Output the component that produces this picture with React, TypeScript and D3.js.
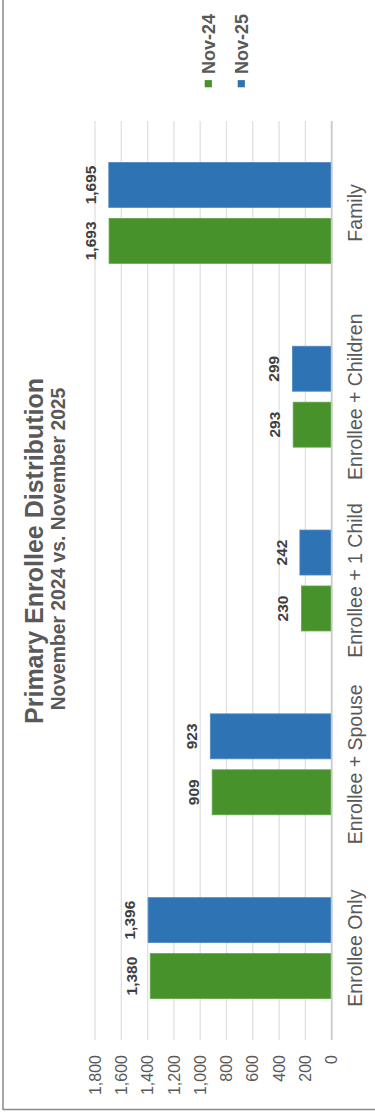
import React from 'react';
import * as d3 from 'd3';

const categories = ['Enrollee Only', 'Enrollee + Spouse', 'Enrollee + 1 Child', 'Enrollee + Children', 'Family'];
const seriesNames = ['Nov-24', 'Nov-25'];
const nov24 = [1380, 909, 230, 293, 1693];
const nov25 = [1396, 923, 242, 299, 1695];
const yTicks = [0, 200, 400, 600, 800, 1000, 1200, 1400, 1600, 1800];
const seriesColors = ['#47922b', '#2e74b5'];
const titleText = 'Primary Enrollee Distribution';
const subtitleText = 'November 2024 vs. November 2025';

const SW = 375;
const SH = 1114;
const FONT = '"Liberation Sans", Arial, Helvetica, sans-serif';

export default function App() {
  const seriesValues = [nov24, nov25];
  const x0 = d3.scaleBand<string>().domain(categories).range([74, 993]).paddingInner(0.451).paddingOuter(0.2255);
  const x1 = d3.scaleBand<string>().domain(seriesNames).range([0, x0.bandwidth()]).paddingInner(0.196);
  const y = d3.scaleLinear().domain([0, 1800]).range([331.7, 95]);
  const fmt = d3.format(',');

  return (
    <svg width={SW} height={SH} style={{ position: 'absolute', left: 0, top: 0, background: '#fff' }} fontFamily={FONT}>
      <rect x={0} y={0} width={SW} height={SH} fill="#fff" />
      <g transform={`translate(0,${SH}) rotate(-90)`}>
        {/* gridlines */}
        {yTicks.filter(t => t !== 0).map(t => (
          <line key={t} x1={74} x2={993} y1={y(t)} y2={y(t)} stroke="#e0e0e0" strokeWidth={1.3} />
        ))}
        {/* bars */}
        {categories.map((c, i) => (
          <g key={c}>
            {seriesNames.map((s, j) => {
              const v = seriesValues[j][i];
              const bx = (x0(c) as number) + (x1(s) as number);
              const bw = x1.bandwidth();
              return (
                <g key={s}>
                  <rect x={bx} y={y(v)} width={bw} height={y(0) - y(v)} fill={seriesColors[j]} stroke={j === 0 ? '#62a548' : '#5089c2'} strokeWidth={0.8} />
                  <text x={bx + bw / 2} y={y(v) - 13} textAnchor="middle" fontSize={15.5} fontWeight="bold" fill="#404040">{fmt(v)}</text>
                </g>
              );
            })}
            <text x={(x0(c) as number) + x0.bandwidth() / 2} y={362} textAnchor="middle" fontSize={19.5} fill="#595959">{c}</text>
          </g>
        ))}
        {/* zero axis */}
        <line x1={74} x2={993} y1={y(0)} y2={y(0)} stroke="#c8c8c8" strokeWidth={1.8} />
        {/* tick labels */}
        {yTicks.map(t => (
          <text key={t} x={59} y={y(t) + 5.6} textAnchor="end" fontSize={16} fill="#595959">{fmt(t)}</text>
        ))}
        {/* title */}
        <text x={563} y={43.3} textAnchor="middle" fontSize={25} fontWeight="bold" fill="#595959">{titleText}</text>
        <text x={565} y={65} textAnchor="middle" fontSize={19.3} fontWeight="bold" fill="#595959">{subtitleText}</text>
        {/* legend */}
        {seriesNames.map((s, j) => {
          const cy = 208.3 + j * 33;
          return (
            <g key={s}>
              <rect x={1026.7} y={cy - 3.6} width={7.2} height={7.2} fill={seriesColors[j]} />
              <text x={1040} y={cy + 6.6} fontSize={18} fontWeight="bold" fill="#595959">{s}</text>
            </g>
          );
        })}
      </g>
      {/* frame */}
      <line x1={3} x2={3} y1={0} y2={1110} stroke="#8a8a8a" strokeWidth={1.5} />
      <line x1={3} x2={SW} y1={1109.5} y2={1109.5} stroke="#8a8a8a" strokeWidth={1.5} />
    </svg>
  );
}
